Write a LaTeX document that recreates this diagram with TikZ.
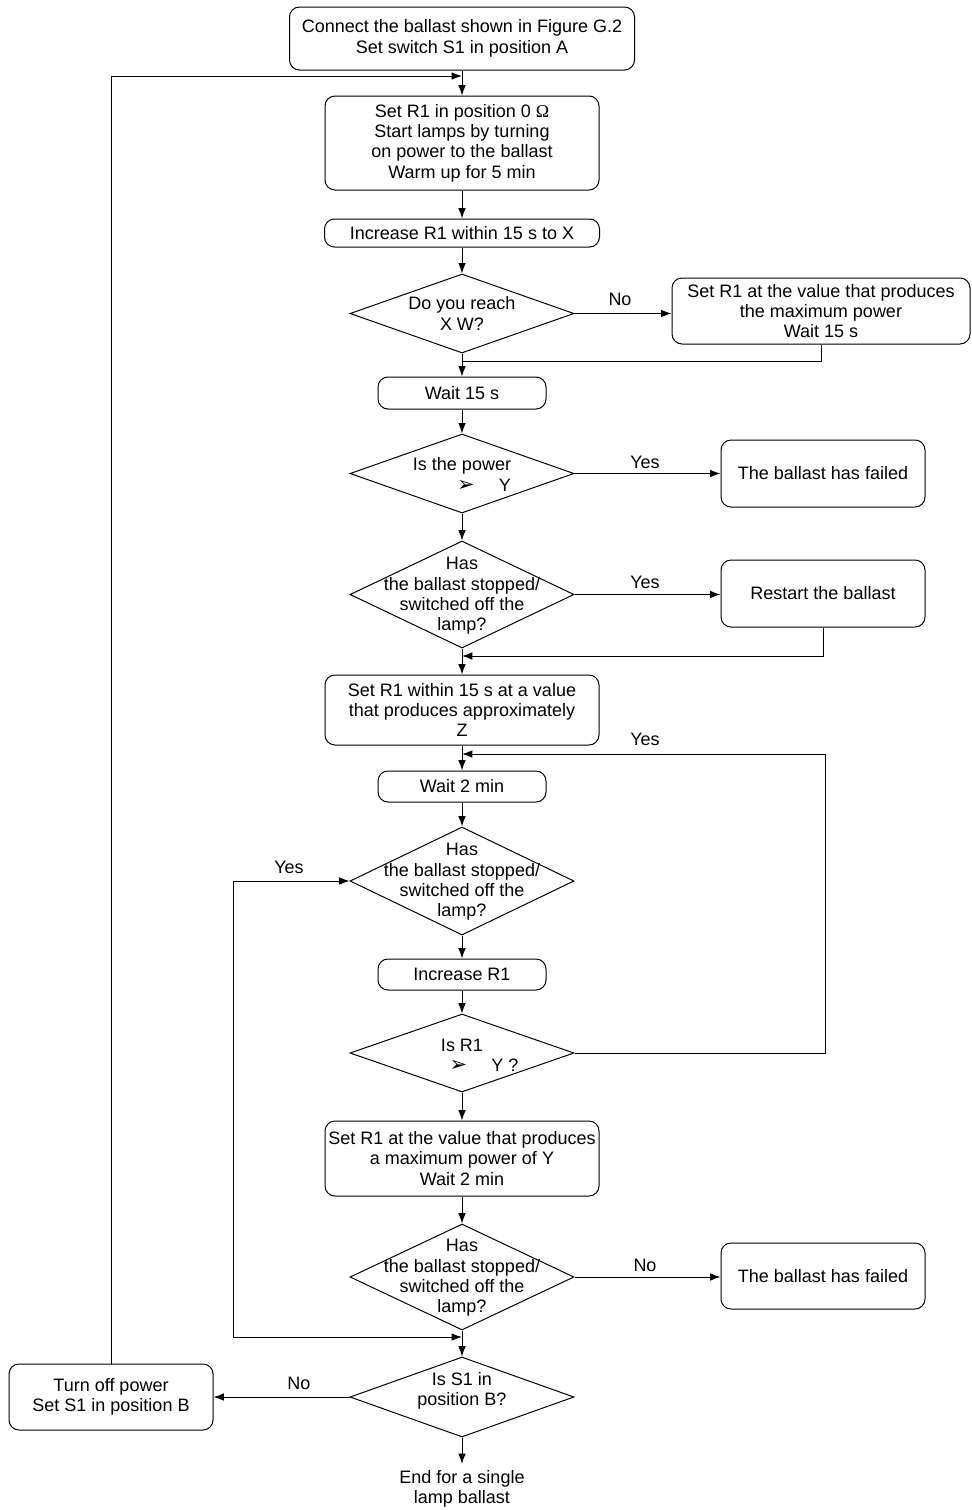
\documentclass[tikz,border=0pt]{standalone}
\usepackage{fontspec}
\setmainfont{Liberation Sans}
\newfontfamily\dejavu{DejaVu Sans}
\newfontfamily\serifom{Liberation Serif}
\usetikzlibrary{arrows.meta,shapes.geometric}
\newcommand{\arrh}{{\dejavu\fontsize{10.5}{10.5}\selectfont ➢}}
\begin{document}
\begin{tikzpicture}[x=0.5pt,y=-0.5pt,
  font=\fontsize{9}{10.2}\selectfont,
  line width=0.5pt,
  >={Latex[length=5.2pt,width=3.8pt]},
  box/.style={draw, rounded corners=5pt, align=center, inner sep=0pt},
  dia/.style={draw, diamond, inner sep=0pt, minimum width=112pt},
  lbl/.style={inner sep=0pt, align=center},
  flow/.style={->}]
\useasboundingbox (0,0) rectangle (971,1510);

% boxes
\node[box, minimum width=172.5pt, minimum height=31.5pt] (b1) at (462,38.5)
  {Connect the ballast shown in Figure G.2\\Set switch S1 in position A};
\node[box, minimum width=137pt, minimum height=47pt] (b2) at (462,143)
  {Set R1 in position 0 {\serifom Ω}\\Start lamps by turning\\on power to the ballast\\Warm up for 5 min};
\node[box, minimum width=137.5pt, minimum height=14pt] (b3) at (462,233)
  {Increase R1 within 15 s to X};
\node[dia, minimum height=39.5pt] (d4) at (462,313.5) {};
\node[lbl] (d4t) at (462,313.5) {Do you reach\\X W?};
\node[box, minimum width=149pt, minimum height=33pt] (b5) at (821,311)
  {Set R1 at the value that produces\\the maximum power\\Wait 15 s};
\node[box, minimum width=84pt, minimum height=16pt] (b6) at (462,393) {Wait 15 s};
\node[dia, minimum height=39.5pt] (d7) at (462,473.5) {};
\node[lbl] (d7t) at (462,474.5) {Is the power\\\hspace*{22pt}\arrh\hspace{12pt}Y};
\node[box, minimum width=102pt, minimum height=33.5pt] (b8) at (823,473.5) {The ballast has failed};
\node[dia, minimum height=53.5pt] (d9) at (462,594.5) {};
\node[lbl] (d9t) at (462,596) {Has\\the ballast stopped/\\switched off the\\lamp?};
\node[box, minimum width=102pt, minimum height=33.5pt] (b10) at (823,593.5) {Restart the ballast};
\node[box, minimum width=137pt, minimum height=35pt] (b11) at (462,710)
  {Set R1 within 15 s at a value\\that produces approximately\\Z};
\node[box, minimum width=84pt, minimum height=15.5pt] (b12) at (462,786.5) {Wait 2 min};
\node[dia, minimum height=54pt] (d13) at (462,881) {};
\node[lbl] (d13t) at (462,882) {Has\\the ballast stopped/\\switched off the\\lamp?};
\node[box, minimum width=84pt, minimum height=15.5pt] (b14) at (462,974.5) {Increase R1};
\node[dia, minimum height=39pt] (d15) at (462,1053) {};
\node[lbl] (d15t) at (462,1055.5) {Is R1\\\hspace*{22pt}\arrh\hspace{12pt}Y ?};
\node[box, minimum width=137pt, minimum height=37.5pt] (b16) at (462,1158.5)
  {Set R1 at the value that produces\\a maximum power of Y\\Wait 2 min};
\node[dia, minimum height=53pt] (d17) at (462,1277) {};
\node[lbl] (d17t) at (462,1278) {Has\\the ballast stopped/\\switched off the\\lamp?};
\node[box, minimum width=102pt, minimum height=33pt] (b18) at (823,1276) {The ballast has failed};
\node[dia, minimum height=40pt] (d19) at (462,1397) {};
\node[lbl] (d19t) at (462,1391) {Is S1 in\\position B?};
\node[box, minimum width=102pt, minimum height=33pt] (b20) at (111,1397)
  {Turn off power\\Set S1 in position B};
\node[lbl, inner ysep=3pt] (end) at (462,1489) {End for a single\\lamp ballast};

% junction coordinates
\coordinate (j0) at (462,76);
\coordinate (j1) at (462,361);
\coordinate (j2) at (462,656);
\coordinate (j3) at (462,754);
\coordinate (c3) at (825,754);
\coordinate (j4) at (462,1337);
\coordinate (c4) at (233,1337);

% connectors
\draw[flow] (b1) -- (b2);
\draw[flow] (b20.north) |- (j0);
\draw[flow] (b2) -- (b3);
\draw[flow] (b3) -- (d4);
\draw[flow] (d4.east) -- (d4.east -| b5.west);
\draw (b5.south) |- (j1);
\draw[flow] (d4.south) -- (b6.north);
\draw[flow] (b6) -- (d7);
\draw[flow] (d7.east) -- (d7.east -| b8.west);
\draw[flow] (d7.south) -- (d9.north);
\draw[flow] (d9.east) -- (d9.east -| b10.west);
\draw[flow] (b10.south) |- (j2);
\draw[flow] (d9.south) -- (b11.north);
\draw[flow] (b11) -- (b12);
\draw[flow] (d15.east) -| (c3) -- (j3);
\draw[flow] (b12) -- (d13);
\draw[flow] (d13.south) -- (b14.north);
\draw[flow] (b14) -- (d15);
\draw[flow] (d15.south) -- (b16.north);
\draw[flow] (b16) -- (d17);
\draw[flow] (d17.east) -- (d17.east -| b18.west);
\draw[flow] (d17.south) -- (d19.north);
\draw[<->] (d13.west) -| (c4) -- (j4);
\draw[flow] (d19.west) -- (b20.east);
\draw[flow] (d19.south) -- (end.north);

% labels
\node[lbl] (l1) at (620,299) {No};
\node[lbl] (l2) at (645,462) {Yes};
\node[lbl] (l3) at (645,582) {Yes};
\node[lbl] (l4) at (645,739) {Yes};
\node[lbl] (l5) at (289,867) {Yes};
\node[lbl] (l6) at (645,1265) {No};
\node[lbl] (l7) at (299,1383) {No};
\end{tikzpicture}
\end{document}
